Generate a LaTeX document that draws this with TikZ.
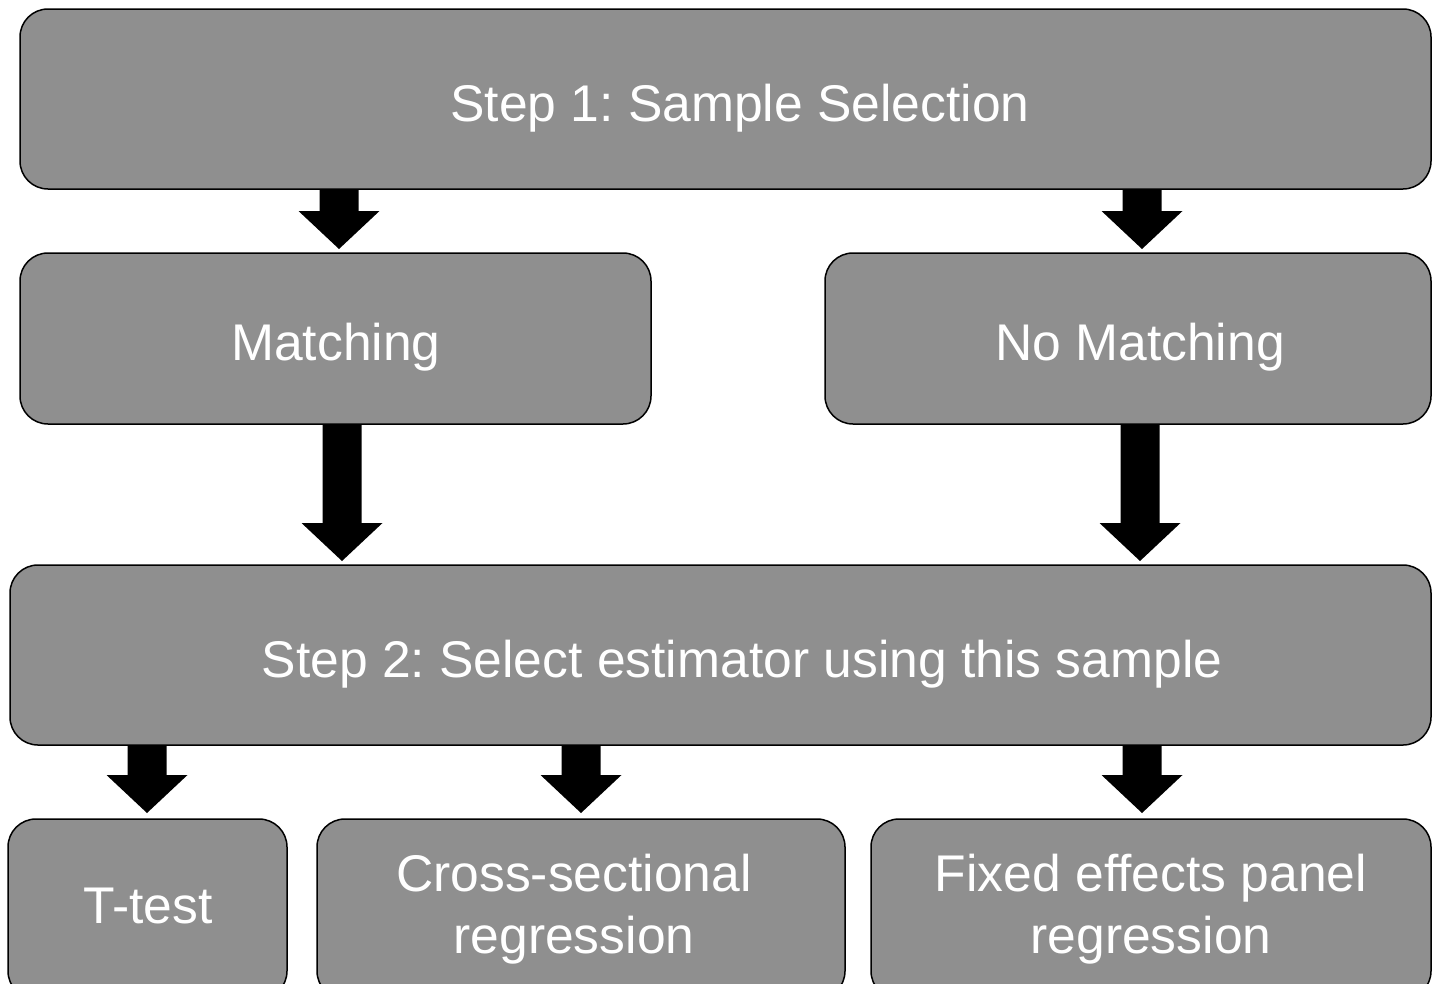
\documentclass[tikz,border=0pt]{standalone}
\usepackage{fontspec}
\setmainfont{Liberation Sans}
\usetikzlibrary{calc}
\frenchspacing
\definecolor{boxgray}{HTML}{8F8F8F}
\tikzset{
  box/.style={draw=black, line width=1.5pt, fill=boxgray, rounded corners=28pt,
              inner sep=0pt, outer sep=0pt, anchor=north west},
  lbl/.style={text=white, font=\fontsize{51.6}{62}\selectfont, align=center,
              inner sep=0pt, anchor=base},
  blk/.style={fill=black}
}
% block arrow from a top point (#1) down to its tip (#2)
\newcommand\blockarrow[2]{%
  \fill[blk] ($(#1)+(-19.5,0)$) -- ($(#2)+(-19.5,-38)$) -- ($(#2)+(-40.5,-38)$)
    -- (#2) -- ($(#2)+(40.5,-38)$) -- ($(#2)+(19.5,-38)$) -- ($(#1)+(19.5,0)$) -- cycle;}
\begin{document}
\begin{tikzpicture}[x=1pt,y=-1pt]
\useasboundingbox (0,0) rectangle (1439,983);
\clip (0,0) rectangle (1439,983);

% boxes
\node[box, minimum width=1411pt, minimum height=180pt] (s1) at (20,9) {};
\node[box, minimum width=631pt,  minimum height=171pt] (m)  at (20,253) {};
\node[box, minimum width=606pt,  minimum height=171pt] (nm) at (825,253) {};
\node[box, minimum width=1421pt, minimum height=180pt] (s2) at (10,565) {};
\node[box, minimum width=279pt,  minimum height=180pt] (tt) at (8,819) {};
\node[box, minimum width=528pt,  minimum height=180pt] (cs) at (317,819) {};
\node[box, minimum width=560pt,  minimum height=180pt] (fe) at (871,819) {};

% labels (two-line labels sit on the baseline of their last line)
\node[lbl] (s1t) at (740,121) {Step 1: Sample Selection};
\node[lbl] (mt)  at (336,360) {Matching};
\node[lbl] (nmt) at (1140,360) {No Matching};
\node[lbl] (s2t) at (742,677) {Step 2: Select estimator using this sample};
\node[lbl] (ttt) at (148,923) {T-test};
\node[lbl] (cst) at (574,953) {Cross-sectional\\regression};
\node[lbl] (fet) at (1151,953) {Fixed effects panel\\regression};

% connectors
\coordinate (a1t) at ($(s1.south -| m.north)+(3.5,0)$);
\coordinate (a1h) at ($(m.north)+(3.5,-4)$);
\coordinate (a2t) at ($(s1.south -| nm.north)+(14,0)$);
\coordinate (a2h) at ($(nm.north)+(14,-4)$);
\coordinate (a3t) at ($(m.south)+(6.5,0)$);
\coordinate (a3h) at ($(s2.north -| m.south)+(6.5,-4)$);
\coordinate (a4t) at ($(nm.south)+(12,0)$);
\coordinate (a4h) at ($(s2.north -| nm.south)+(12,-4)$);
\coordinate (a5t) at ($(s2.south -| tt.north)+(-0.5,0)$);
\coordinate (a5h) at ($(tt.north)+(-0.5,-6)$);
\coordinate (a6t) at ($(s2.south -| cs.north)$);
\coordinate (a6h) at ($(cs.north)+(0,-6)$);
\coordinate (a7t) at ($(s2.south -| fe.north)+(-9,0)$);
\coordinate (a7h) at ($(fe.north)+(-9,-6)$);
\blockarrow{a1t}{a1h}
\blockarrow{a2t}{a2h}
\blockarrow{a3t}{a3h}
\blockarrow{a4t}{a4h}
\blockarrow{a5t}{a5h}
\blockarrow{a6t}{a6h}
\blockarrow{a7t}{a7h}
\end{tikzpicture}
\end{document}
